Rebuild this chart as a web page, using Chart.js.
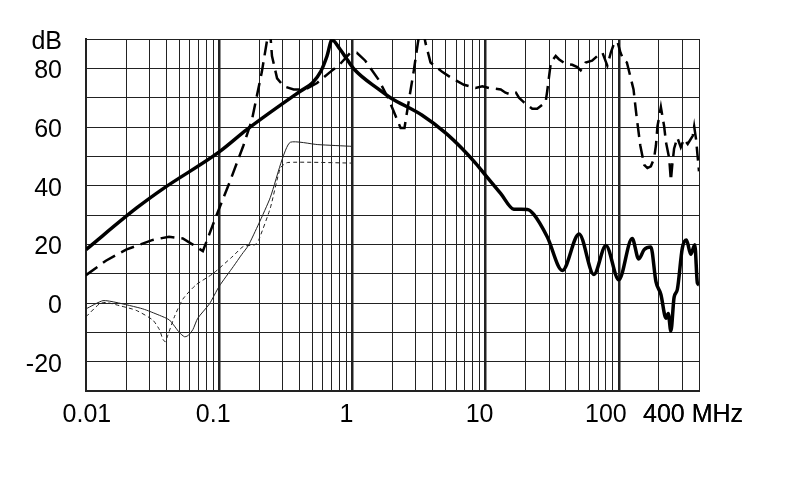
<!DOCTYPE html>
<html>
<head>
<meta charset="utf-8">
<script src="https://cdn.jsdelivr.net/npm/chart.js@4/dist/chart.umd.min.js"></script>
<style>
  html, body { margin: 0; padding: 0; background: #fff; }
  #wrap { width: 790px; height: 482px; position: relative; }
</style>
</head>
<body>
<div id="wrap"><canvas id="chart"></canvas></div>
<script>
// frequency in MHz, level in dB
const solidFreq = [0.01, 0.024, 0.038, 0.1, 0.161, 0.406, 0.5, 0.58, 0.645, 0.703, 0.81, 0.91, 1.04, 1.58, 1.93, 3.34, 5.0, 6.68, 8.4, 10, 13, 16.3, 20.6, 23, 29, 37.7, 50.3, 65, 80, 100, 126, 141, 155, 174, 190, 207, 226, 235, 246, 260, 275, 300, 322, 347, 372, 389, 400];
const solidDb = [18.2, 32.4, 39, 51.5, 59.1, 72.2, 75, 79, 84.2, 89.7, 86.4, 83.1, 79.5, 72.8, 70, 64, 58, 52.6, 47.7, 43.5, 37.3, 32, 31.9, 30.2, 22.6, 11.1, 23.5, 9.7, 19.6, 7.9, 22, 15, 18.2, 19.1, 7.3, 2.9, -5.2, -3.6, -9.6, 1.9, 4.6, 18.8, 21.5, 16.6, 19.9, 6.8, 6.2];

const dashFreq = [0.01, 0.0141, 0.02, 0.0317, 0.042, 0.0533, 0.0634, 0.0754, 0.096, 0.121, 0.152, 0.176, 0.209, 0.229, 0.238, 0.249, 0.272, 0.305, 0.362, 0.444, 0.543, 0.683, 0.81, 0.966, 1.08, 1.25, 1.58, 1.87, 2.1, 2.3, 2.46, 2.63, 2.88, 3.1, 3.3, 3.54, 3.86, 4.72, 5.6, 6.87, 8.4, 9.45, 10.6, 13, 14.1, 15.4, 16.9, 17.8, 19.4, 22.4, 24.4, 28.2, 29, 30.9, 33.6, 35.5, 39.8, 44.7, 48.8, 51.7, 56.3, 63, 69, 75.4, 82, 87, 92.3, 97.7, 103, 109, 115, 129, 136, 145, 155, 164, 174, 184, 190, 195, 207, 219, 226, 239, 246, 252, 260, 275, 292, 309, 329, 359, 368, 380, 400];
const dashDb = [9.5, 14.4, 18.2, 21.5, 22.6, 22, 19.9, 17.7, 30.2, 41.7, 53.7, 62.4, 78.8, 89.7, 96, 84.2, 76.6, 73.9, 72.8, 72.8, 75, 78.8, 81.5, 85.3, 85.3, 82.6, 76, 69.5, 64, 59.7, 59.7, 67.9, 78.8, 88.6, 96, 88.6, 82, 78.8, 76.6, 74.4, 73.3, 73.9, 73.3, 72.8, 71.7, 71.1, 71.7, 70, 68.4, 66.2, 66.2, 68.4, 72.2, 82, 84.2, 83.1, 81.5, 81.2, 80.4, 79.3, 82, 82.6, 84.2, 85.3, 80.9, 85.3, 88.6, 89.1, 85.3, 82.6, 82, 72.8, 63.5, 53.7, 47.1, 46, 46.6, 49.3, 53.7, 60.2, 66.8, 60.2, 54.8, 49.3, 41.7, 47.1, 52.6, 56.4, 53.1, 55.9, 54.2, 57, 60.2, 55.9, 44.9];

const thinFreq = [0.01, 0.0134, 0.0168, 0.0267, 0.0356, 0.0423, 0.0503, 0.0548, 0.058, 0.0634, 0.069, 0.0845, 0.1, 0.128, 0.148, 0.165, 0.198, 0.242, 0.296, 0.342, 0.55, 1];
const thinDb = [-2, 0.8, 0.2, -2, -4.2, -5.8, -10.1, -11.5, -11.2, -9.1, -5.2, -0.3, 5.7, 12.5, 16.6, 19.5, 27, 36, 48.8, 54.8, 54, 53.4];

const thinDashFreq = [0.01, 0.0126, 0.0141, 0.0178, 0.0238, 0.0317, 0.0356, 0.0377, 0.0393, 0.041, 0.0461, 0.0533, 0.067, 0.0897, 0.127, 0.152, 0.186, 0.198, 0.242, 0.288, 0.327, 1];
const thinDashDb = [-4.7, -0.3, 0.2, -0.9, -2.5, -5.8, -9.1, -12.3, -13.2, -11.2, -4.7, 1.3, 6.2, 10, 16, 19.3, 19.9, 21.5, 32.4, 46, 47.9, 47.7];

const xTickValues = [0.01, 0.1, 1, 10, 100, 400];
const xTickLabels = ['  0.01', '0.1', '1', '10', '100  ', '400 MHz'];
const yTickValues = [90, 80, 60, 40, 20, 0, -20];
const yTickLabels = ['dB', '80', '60', '40', '20', '0', '-20'];

const pts = (xs, ys) => xs.map((x, i) => ({ x: x, y: ys[i] }));

// all 1..9 grid positions of every decade up to 400 MHz
const gridX = [];
[0.01, 0.1, 1, 10, 100].forEach(d => {
  for (let m = 1; m <= 9; m++) {
    const v = Number((m * d).toPrecision(3));
    if (v <= 400) gridX.push(v);
  }
});
gridX.push(400);

const font = { family: '"Liberation Sans", Arial, sans-serif', size: 25 };

new Chart(document.getElementById('chart'), {
  type: 'line',
  data: {
    datasets: [
      {
        data: pts(thinFreq, thinDb),
        borderColor: '#222',
        borderWidth: 1,
        pointRadius: 0,
        tension: 0.2
      },
      {
        data: pts(thinDashFreq, thinDashDb),
        borderColor: '#222',
        borderWidth: 1,
        borderDash: [4, 3],
        pointRadius: 0,
        tension: 0.2
      },
      {
        data: pts(dashFreq, dashDb),
        borderColor: '#000',
        borderWidth: 2.5,
        borderDash: [14, 7],
        pointRadius: 0,
        tension: 0
      },
      {
        data: pts(solidFreq, solidDb),
        borderColor: '#000',
        borderWidth: 3.5,
        pointRadius: 0,
        cubicInterpolationMode: 'monotone'
      }
    ]
  },
  options: {
    responsive: true,
    maintainAspectRatio: false,
    animation: false,
    layout: { padding: { left: 0, right: 91, top: 24, bottom: 0 } },
    plugins: {
      legend: { display: false },
      tooltip: { enabled: false }
    },
    scales: {
      x: {
        type: 'logarithmic',
        min: 0.01,
        max: 400,
        afterBuildTicks: scale => {
          scale.ticks = gridX.map(v => ({ value: v }));
        },
        afterFit: scale => { scale.height = 91; },
        grid: {
          color: '#222',
          drawTicks: false,
          lineWidth: ctx => {
            const v = ctx.tick ? ctx.tick.value : 0;
            if (v === 0.1 || v === 1 || v === 10 || v === 100) return 2.5;
            if (v === 0.01) return 2;
            return 1;
          }
        },
        border: { display: true, color: '#222', width: 2 },
        ticks: {
          color: '#000',
          font: font,
          padding: 9,
          labelOffset: -6,
          autoSkip: false,
          maxRotation: 0,
          callback: v => {
            const i = xTickValues.indexOf(Number(v));
            return i >= 0 ? xTickLabels[i] : '';
          }
        }
      },
      y: {
        min: -30,
        max: 90,
        afterBuildTicks: scale => {
          const t = [];
          for (let v = -30; v <= 90; v += 10) t.push({ value: v });
          scale.ticks = t;
        },
        afterFit: scale => { scale.width = 86; },
        grid: { color: '#222', lineWidth: 1, drawTicks: false },
        border: { display: true, color: '#222', width: 2 },
        ticks: {
          color: '#000',
          font: font,
          padding: 24,
          labelOffset: 3,
          autoSkip: false,
          callback: v => {
            const i = yTickValues.indexOf(v);
            return i >= 0 ? yTickLabels[i] : '';
          }
        }
      }
    }
  }
});
</script>
</body>
</html>
